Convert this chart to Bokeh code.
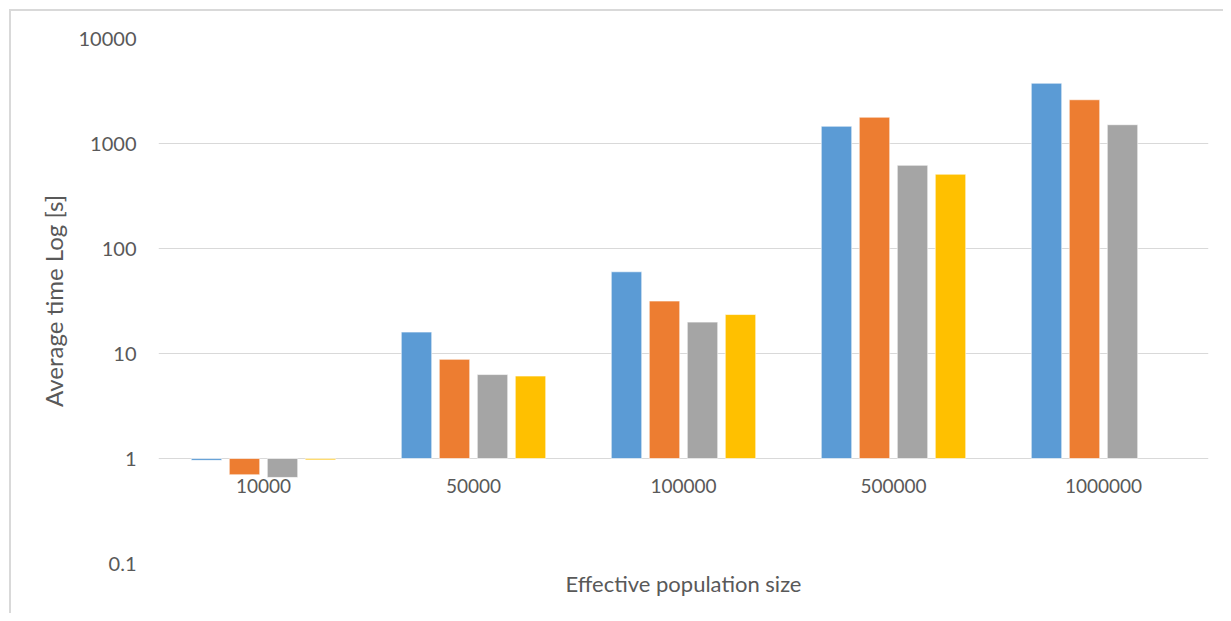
from bokeh.plotting import figure
from bokeh.models import ColumnDataSource, FactorRange, Range1d, FixedTicker, NumeralTickFormatter, Title
from bokeh.transform import dodge
from bokeh.core.properties import value
from bokeh.embed import file_html
from bokeh.resources import INLINE

# ---- data ----
categories = ["10000", "50000", "100000", "500000", "1000000"]
series_a = [0.96, 16.0, 60.0, 1460.0, 3750.0]
series_b = [0.70, 8.8, 31.6, 1780.0, 2610.0]
series_c = [0.66, 6.3, 19.9, 620.0, 1510.0]
series_d = [0.97, 6.1, 23.5, 510.0, None]
colors = ["#5B9BD5", "#ED7D31", "#A5A5A5", "#FFC000"]
y_ticks = [0.1, 1, 10, 100, 1000, 10000]
x_title = "Effective population size"
y_title = "Average time Log [s]"

FONT = "Lato"
TXT = "#595959"

p = figure(
    width=1223, height=613,
    x_range=FactorRange(*categories, range_padding=0),
    y_range=Range1d(0.1, 10000),
    y_axis_type="log",
    output_backend="svg", toolbar_location=None,
    min_border_left=158, min_border_right=15, min_border_top=38, min_border_bottom=50,
)
p.border_fill_color = None
p.background_fill_color = None
p.outline_line_color = None
p.styles = {"box-shadow": "inset 9px 9px 0 0 white, inset 11px 11px 0 0 #D9D9D9"}

offsets = [-0.2714, -0.0905, 0.0905, 0.2714]
for vals, col, off in zip([series_a, series_b, series_c, series_d], colors, offsets):
    xs = [c for c, v in zip(categories, vals) if v is not None]
    ys = [v for v in vals if v is not None]
    src = ColumnDataSource(dict(x=xs, top=ys))
    p.vbar(x=dodge("x", off, range=p.x_range), top="top", bottom=1, width=0.145,
           source=src, fill_color=col, line_color="white", line_alpha=0.6, line_width=1)

# category labels under the y=1 crossing line
lab = ColumnDataSource(dict(x=categories, y=[1] * len(categories)))
p.text(x="x", y="y", text="x", source=lab, text_align="center", text_baseline="top",
       y_offset=20, text_font=value(FONT), text_font_size="19px", text_color=TXT)

# y axis
p.yaxis.ticker = FixedTicker(ticks=y_ticks)
p.yaxis.formatter = NumeralTickFormatter(format="0.[0]")
p.yaxis.major_tick_line_color = None
p.yaxis.minor_tick_line_color = None
p.yaxis.axis_line_color = None
p.yaxis.major_label_standoff = 16
p.yaxis.major_label_text_font = FONT
p.yaxis.major_label_text_font_size = "20px"
p.yaxis.major_label_text_color = TXT
p.yaxis.axis_label = y_title
p.yaxis.axis_label_text_font = FONT
p.yaxis.axis_label_text_font_size = "24px"
p.yaxis.axis_label_text_font_style = "normal"
p.yaxis.axis_label_text_color = TXT
p.yaxis.axis_label_standoff = 8

# x axis: hidden, title drawn as a bottom title centred on the frame
p.xaxis.visible = False
p.add_layout(Title(text=x_title, align="center", text_font=FONT, text_font_size="22px",
                   text_font_style="normal", text_color=TXT, standoff=8), "below")

p.xgrid.grid_line_color = None
p.ygrid.grid_line_color = "#D9D9D9"
p.ygrid.grid_line_width = 1

open("out.html", "w").write(file_html(p, INLINE))
